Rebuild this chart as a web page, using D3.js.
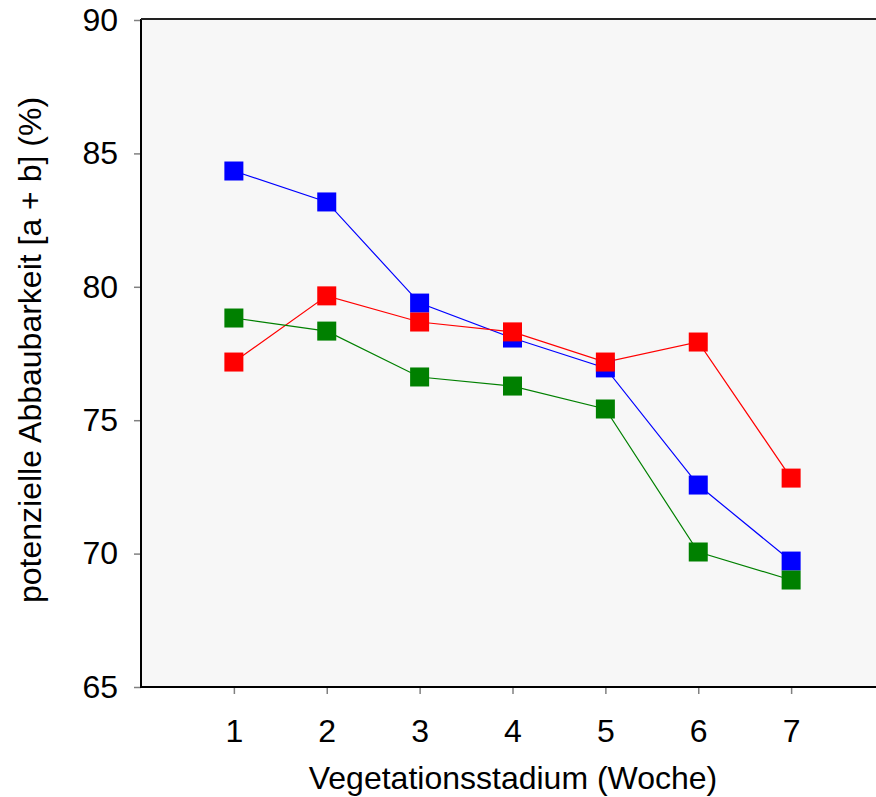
<html lang="de">
<head>
<meta charset="utf-8">
<script src="https://cdn.jsdelivr.net/npm/d3@7"></script>
<style>
body{margin:0;background:#fff;}
svg{display:block;font-family:"Liberation Sans",Arial,sans-serif;}
</style>
</head>
<body>
<div id="chart"></div>
<script>
// Wochen und Werte
const weeks=[1,2,3,4,5,6,7]
const blueVals=[84.34,83.18,79.39,78.08,76.96,72.57,69.72]
const redVals=[77.18,79.66,78.68,78.31,77.18,77.93,72.83]
const greenVals=[78.83,78.34,76.62,76.28,75.42,70.06,69.01]
const yTicks=[65,70,75,80,85,90]
const series=[
  {name:"blau",color:"#0000ff",vals:blueVals},
  {name:"rot",color:"#ff0000",vals:redVals},
  {name:"gruen",color:"#008000",vals:greenVals}
]

const W=876,H=797
const pLeft=141,pTop=20,pBottom=687,pRight=884
const fs=32

const svg=d3.select("#chart").append("svg").attr("width",W).attr("height",H)
const x=d3.scaleLinear().domain([0,8]).range([pLeft,pRight])
const y=d3.scaleLinear().domain([65,90]).range([pBottom,pTop])

// plot background
svg.append("rect").attr("x",pLeft).attr("y",pTop).attr("width",pRight-pLeft).attr("height",pBottom-pTop).attr("fill","#f7f7f7")

// y axis
const ya=svg.append("g").attr("transform","translate("+pLeft+",0)")
  .call(d3.axisLeft(y).tickValues(yTicks).tickSize(7).tickPadding(16).tickFormat(d3.format("d")))
ya.select(".domain").remove()
ya.selectAll(".tick line").attr("stroke","#808080").attr("stroke-width",1.5)
ya.selectAll(".tick text").attr("font-size",fs).attr("fill","#000").attr("font-family","Liberation Sans, Arial, sans-serif")

// x axis
const xa=svg.append("g").attr("transform","translate(0,"+pBottom+")")
  .call(d3.axisBottom(x).tickValues(weeks).tickSize(7).tickPadding(25).tickFormat(d3.format("d")))
xa.select(".domain").remove()
xa.selectAll(".tick line").attr("stroke","#808080").attr("stroke-width",1.5)
xa.selectAll(".tick text").attr("font-size",fs).attr("fill","#000").attr("font-family","Liberation Sans, Arial, sans-serif")

// frame lines
svg.append("line").attr("x1",pLeft).attr("x2",pLeft).attr("y1",pTop-1).attr("y2",pBottom+1).attr("stroke","#000").attr("stroke-width",2)
svg.append("line").attr("x1",pLeft).attr("x2",W).attr("y1",pBottom).attr("y2",pBottom).attr("stroke","#000").attr("stroke-width",2)
svg.append("line").attr("x1",pLeft).attr("x2",W).attr("y1",pTop-1).attr("y2",pTop-1).attr("stroke","#222").attr("stroke-width",2)

const line=d3.line().x((d,i)=>x(weeks[i])).y(d=>y(d))
const ms=19
series.forEach(s=>{
  svg.append("path").attr("d",line(s.vals)).attr("fill","none").attr("stroke",s.color).attr("stroke-width",1.2)
})
series.forEach(s=>{
  svg.append("g").selectAll("rect").data(s.vals).enter().append("rect")
    .attr("x",(d,i)=>x(weeks[i])-ms/2).attr("y",d=>y(d)-ms/2)
    .attr("width",ms).attr("height",ms).attr("fill",s.color)
})

// axis titles
svg.append("text").attr("x",513).attr("y",789).attr("text-anchor","middle").attr("font-size",fs).text("Vegetationsstadium (Woche)")
svg.append("text").attr("transform","translate(41,350) rotate(-90)").attr("text-anchor","middle").attr("font-size",fs).text("potenzielle Abbaubarkeit [a + b] (%)")
</script>
</body>
</html>
